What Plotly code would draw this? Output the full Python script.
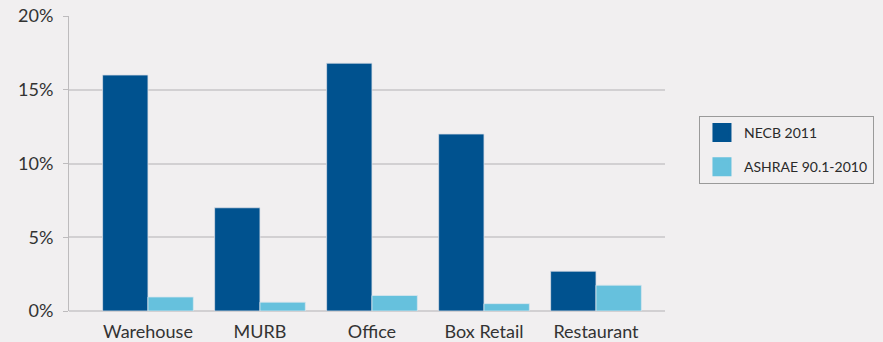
import plotly.graph_objects as go

categories = ["Warehouse", "MURB", "Office", "Box Retail", "Restaurant"]
necb_2011 = [16.0, 7.0, 16.8, 12.0, 2.7]
ashrae_2010 = [0.95, 0.6, 1.05, 0.5, 1.75]
y_ticks = [0, 5, 10, 15, 20]
y_tick_labels = ["0%", "5%", "10%", "15%", "20%"]
series_names = ["NECB 2011", "ASHRAE 90.1-2010"]
series_colors = ["#00528f", "#66c1dd"]

fig = go.Figure()
fig.add_bar(name=series_names[0], x=categories, y=necb_2011, showlegend=False,
            marker=dict(color=series_colors[0], line=dict(color="#d8dde6", width=0.8)))
fig.add_bar(name=series_names[1], x=categories, y=ashrae_2010, showlegend=False,
            marker=dict(color=series_colors[1], line=dict(color="#d8e6ee", width=0.8)))
# legend-only entries with larger square swatches
for i, (name, col) in enumerate(zip(series_names, series_colors)):
    fig.add_scatter(name=name, x=[categories[0]], y=[None], mode="markers",
                    legendgroup=f"g{i}",
                    marker=dict(symbol="square", size=16, color=col,
                                line=dict(color=col, width=3)),
                    hoverinfo="skip")

fig.update_layout(
    width=883, height=342,
    margin=dict(l=69, r=218, t=16, b=31, autoexpand=False),
    paper_bgcolor="#f1eff0", plot_bgcolor="#f1eff0",
    barmode="group", bargap=0.19, bargroupgap=0.0,
    font=dict(family="Lato, Noto Sans, sans-serif", size=18, color="#333333"),
    showlegend=True,
    legend=dict(x=1.057, y=0.661, xanchor="left", yanchor="top",
                bordercolor="#9a9a9a", borderwidth=1, bgcolor="rgba(0,0,0,0)",
                font=dict(size=14, color="#2a2a2a"),
                tracegroupgap=13, itemwidth=34, itemsizing="trace"),
    xaxis=dict(range=[-0.705, 4.616], showgrid=False, showline=False,
               ticks="outside", ticklen=4, tickcolor="rgba(0,0,0,0)",
               tickfont=dict(size=18), automargin=False),
    yaxis=dict(range=[0, 20], tickvals=y_ticks, ticktext=y_tick_labels,
               showgrid=True, gridcolor="#d2d0d2", gridwidth=1.5,
               zeroline=True, zerolinecolor="#d2d0d2", zerolinewidth=1.5,
               showline=True, linecolor="#bdbbbd", linewidth=1,
               ticks="outside", ticklen=5, tickcolor="#bdbbbd",
               ticklabelstandoff=6,
               tickfont=dict(size=18), automargin=False),
)

fig.write_html("out.html")
